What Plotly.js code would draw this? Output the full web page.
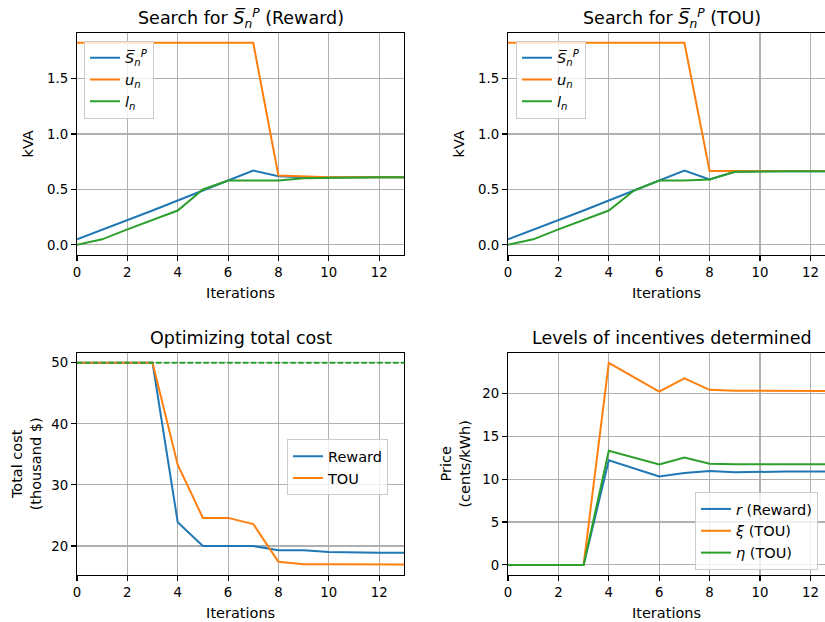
<!DOCTYPE html>
<html>
<head>
<meta charset="utf-8">
<script src="https://cdn.plot.ly/plotly-3.0.1.min.js"></script>
<style>html,body{margin:0;padding:0;background:#fff;}#chart{width:825px;height:622px;}</style>
</head>
<body>
<div id="chart"></div>
<script>
// ---- data ----
const iterations = [0,1,2,3,4,5,6,7,8,9,10,11,12,13];

// Search for S (Reward)
const rewardS = [0.05,0.135,0.22,0.31,0.40,0.49,0.58,0.67,0.62,0.61,0.61,0.61,0.61,0.61];
const rewardU = [1.823,1.823,1.823,1.823,1.823,1.823,1.823,1.823,0.625,0.615,0.61,0.61,0.61,0.61];
const rewardL = [0.0,0.05,0.14,0.225,0.31,0.50,0.58,0.58,0.58,0.60,0.605,0.61,0.61,0.61];

// Search for S (TOU)
const touS = [0.05,0.135,0.22,0.31,0.40,0.49,0.58,0.67,0.59,0.66,0.665,0.665,0.665,0.665];
const touU = [1.823,1.823,1.823,1.823,1.823,1.823,1.823,1.823,0.667,0.667,0.667,0.667,0.667,0.667];
const touL = [0.0,0.05,0.14,0.225,0.31,0.49,0.58,0.58,0.59,0.66,0.665,0.665,0.665,0.665];

// Optimizing total cost (thousand $)
const costReward = [50,50,50,50,23.9,20.0,20.0,20.0,19.3,19.3,19.0,18.9,18.9,18.9];
const costTOU = [50,50,50,50,33.3,24.6,24.6,23.6,17.4,17.0,17.0,17.0,16.95,16.95];
const costBaseline = 50;

// Levels of incentives (cents/kWh)
const priceR = [0,0,0,0,12.2,11.25,10.3,10.7,10.95,10.8,10.87,10.87,10.87,10.87];
const priceXi = [0,0,0,0,23.55,21.9,20.2,21.75,20.4,20.3,20.27,20.27,20.27,20.27];
const priceEta = [0,0,0,0,13.3,12.5,11.7,12.5,11.8,11.73,11.73,11.73,11.73,11.73];

const xTicks = [0,2,4,6,8,10,12];

// ---- style ----
const C = ['#1f77b4','#ff7f0e','#2ca02c'];
const FONT = 'DejaVu Sans, sans-serif';
const W = 825, H = 622;
const px = v => v / W;
const py = v => 1 - v / H;

function ln(x, y, color, name, xa, ya, legend) {
  return {x: x, y: y, type: 'scatter', mode: 'lines', name: name,
    line: {color: color, width: 2}, xaxis: xa, yaxis: ya, legend: legend};
}

const traces = [
  ln(iterations, rewardS, C[0], '<i>S̅</i><sub><i>n</i></sub><sup><i>P</i></sup>', 'x', 'y', 'legend'),
  ln(iterations, rewardU, C[1], '<i>u</i><sub><i>n</i></sub>', 'x', 'y', 'legend'),
  ln(iterations, rewardL, C[2], '<i>l</i><sub><i>n</i></sub>', 'x', 'y', 'legend'),
  ln(iterations, touS, C[0], '<i>S̅</i><sub><i>n</i></sub><sup><i>P</i></sup>', 'x2', 'y2', 'legend2'),
  ln(iterations, touU, C[1], '<i>u</i><sub><i>n</i></sub>', 'x2', 'y2', 'legend2'),
  ln(iterations, touL, C[2], '<i>l</i><sub><i>n</i></sub>', 'x2', 'y2', 'legend2'),
  ln(iterations, costReward, C[0], 'Reward', 'x3', 'y3', 'legend3'),
  ln(iterations, costTOU, C[1], 'TOU', 'x3', 'y3', 'legend3'),
  ln(iterations, priceR, C[0], '<i>r</i> (Reward)', 'x4', 'y4', 'legend4'),
  ln(iterations, priceXi, C[1], '<i>ξ</i> (TOU)', 'x4', 'y4', 'legend4'),
  ln(iterations, priceEta, C[2], '<i>η</i> (TOU)', 'x4', 'y4', 'legend4')
];

const tickFont = {family: FONT, size: 13.3, color: '#000'};
const labFont = {family: FONT, size: 14.5, color: '#000'};

function xax(domain, range, anchor) {
  return {domain: domain, range: range, anchor: anchor, tickvals: xTicks,
    ticks: 'outside', ticklen: 5, tickwidth: 1.1, tickcolor: '#000',
    showline: true, linecolor: '#000', linewidth: 1.1, mirror: true,
    showgrid: true, gridcolor: '#b0b0b0', gridwidth: 1.1, zeroline: false,
    tickfont: tickFont, title: {text: 'Iterations', font: labFont, standoff: 8},
    automargin: false};
}
function yax(domain, range, anchor, tickvals, fmt, title, standoff) {
  return {domain: domain, range: range, anchor: anchor, tickvals: tickvals, tickformat: fmt,
    ticks: 'outside', ticklen: 5, tickwidth: 1.1, tickcolor: '#000',
    showline: true, linecolor: '#000', linewidth: 1.1, mirror: true,
    showgrid: true, gridcolor: '#b0b0b0', gridwidth: 1.1, zeroline: false,
    tickfont: tickFont, title: {text: title, font: labFont, standoff: standoff},
    automargin: false};
}

const xL = [px(77), px(404.3)];
const xR = [px(508), 1];
const yTop = [py(255), py(32.7)];
const yBot = [py(575), py(352.7)];
const rightMax = (825 - 508) / 25.2;

function leg(x, y) {
  return {x: x, y: y, xref: 'paper', yref: 'paper', xanchor: 'left', yanchor: 'top',
    bgcolor: 'rgba(255,255,255,0.8)', bordercolor: '#cccccc', borderwidth: 1,
    font: {family: FONT, size: 14.5, color: '#000'}, itemwidth: 30, tracegroupgap: 0};
}

function title(text, xc, ytop, shift) {
  return {text: text, x: xc, y: ytop, xref: 'paper', yref: 'paper', xanchor: 'center',
    yanchor: 'bottom', showarrow: false, yshift: shift, font: {family: FONT, size: 17.5, color: '#000'}};
}

const layout = {
  width: W, height: H, margin: {l: 0, r: 0, t: 0, b: 0},
  paper_bgcolor: '#fff', plot_bgcolor: '#fff',
  font: {family: FONT, color: '#000'},
  xaxis: xax(xL, [0, 13], 'y'),
  yaxis: yax(yTop, [-0.0912, 1.914], 'x', [0, 0.5, 1.0, 1.5], '.1f', 'kVA', 10),
  xaxis2: xax(xR, [0, rightMax], 'y2'),
  yaxis2: yax(yTop, [-0.0912, 1.914], 'x2', [0, 0.5, 1.0, 1.5], '.1f', 'kVA', 10),
  xaxis3: xax(xL, [0, 13], 'y3'),
  yaxis3: yax(yBot, [15.25, 51.65], 'x3', [20, 30, 40, 50], '', 'Total cost<br>(thousand $)', 6),
  xaxis4: xax(xR, [0, rightMax], 'y4'),
  yaxis4: yax(yBot, [-1.18, 24.73], 'x4', [0, 5, 10, 15, 20], '', 'Price<br>(cents/kWh)', 8),
  legend: leg(px(84), py(40.7)),
  legend2: leg(px(516), py(40.7)),
  legend3: leg(px(287), py(439.3)),
  legend4: leg(px(695), py(492)),
  shapes: [{type: 'line', xref: 'x3 domain', yref: 'y3', x0: 0, x1: 1,
    y0: costBaseline, y1: costBaseline, layer: 'above',
    line: {color: C[2], width: 2, dash: '5.5px,2.4px'}}],
  annotations: [
    title('Search for <i>S̅</i><sub><i>n</i></sub><sup><i>P</i></sup> (Reward)', px(240.7), yTop[1], 0),
    title('Search for <i>S̅</i><sub><i>n</i></sub><sup><i>P</i></sup> (TOU)', px(672), yTop[1], 0),
    title('Optimizing total cost', px(240.7), yBot[1], 3),
    title('Levels of incentives determined', px(672), yBot[1], 3)
  ],
  showlegend: true
};

Plotly.newPlot('chart', traces, layout, {staticPlot: true, displayModeBar: false});
</script>
</body>
</html>
